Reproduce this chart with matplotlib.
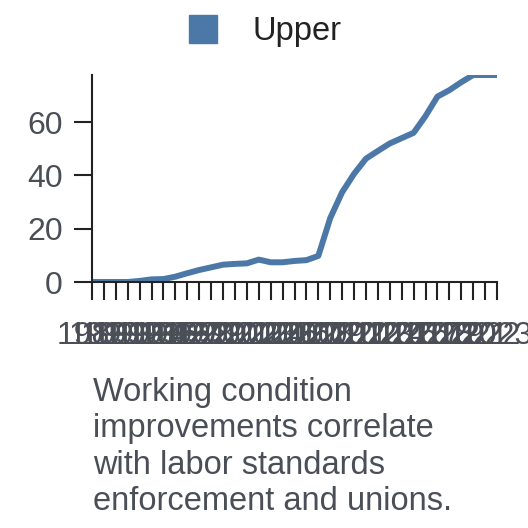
import numpy as np
import matplotlib
matplotlib.use("Agg")
import matplotlib.pyplot as plt
from matplotlib.lines import Line2D

plt.rcParams['font.family'] = ['Liberation Sans', 'DejaVu Sans']

years = list(range(1989, 2024))
upper = [0, 0, 0, 0, 0.4, 1, 1.1, 2, 3.3, 4.5,
         5.5, 6.5, 6.8, 7, 8.4, 7.4, 7.4, 7.9, 8.2, 9.8,
         24, 33.7, 40.6, 46.3, 49.2, 52, 54, 56, 62.3, 69.6,
         72, 75, 77.7, 77.7, 77.7]
series_name = "Upper"
caption = ("Working condition\nimprovements correlate\n"
           "with labor standards\nenforcement and unions.")

line_color = "#4c78a8"
axis_color = "#222222"
label_color = "#4a4f57"

fig = plt.figure(figsize=(5.28, 5.28), dpi=100)
ax = fig.add_axes([92/528, 1-282/528, (497-92)/528, (282-75)/528])

ax.plot(years, upper, color=line_color, lw=4.3, solid_capstyle='butt')
ax.set_xlim(years[0], years[-1])
ax.set_ylim(0, max(upper))

ax.set_xticks(years)
ax.set_xticklabels([str(y) for y in years])
ax.set_yticks([0, 20, 40, 60])

for s in ['top', 'right']:
    ax.spines[s].set_visible(False)
for s in ['left', 'bottom']:
    ax.spines[s].set_color(axis_color)
    ax.spines[s].set_linewidth(1.5)

ax.tick_params(axis='both', length=13, width=1.5, color=axis_color,
               labelsize=23, labelcolor=label_color)
ax.tick_params(axis='x', pad=15)
ax.tick_params(axis='y', pad=8)

handle = Line2D([], [], marker='s', ls='none', markersize=19.5,
                markerfacecolor=line_color, markeredgecolor=line_color)
fig.legend([handle], [series_name], loc='upper center',
           bbox_to_anchor=(0.5, 1.025), frameon=False, fontsize=23.5,
           handlelength=1.0, handletextpad=1.0, labelcolor=axis_color)

fig.text(93/528, 1-377/528, caption, ha='left', va='top', fontsize=23.5,
         color=label_color, linespacing=1.22)

fig.savefig("out.png", dpi=100)
